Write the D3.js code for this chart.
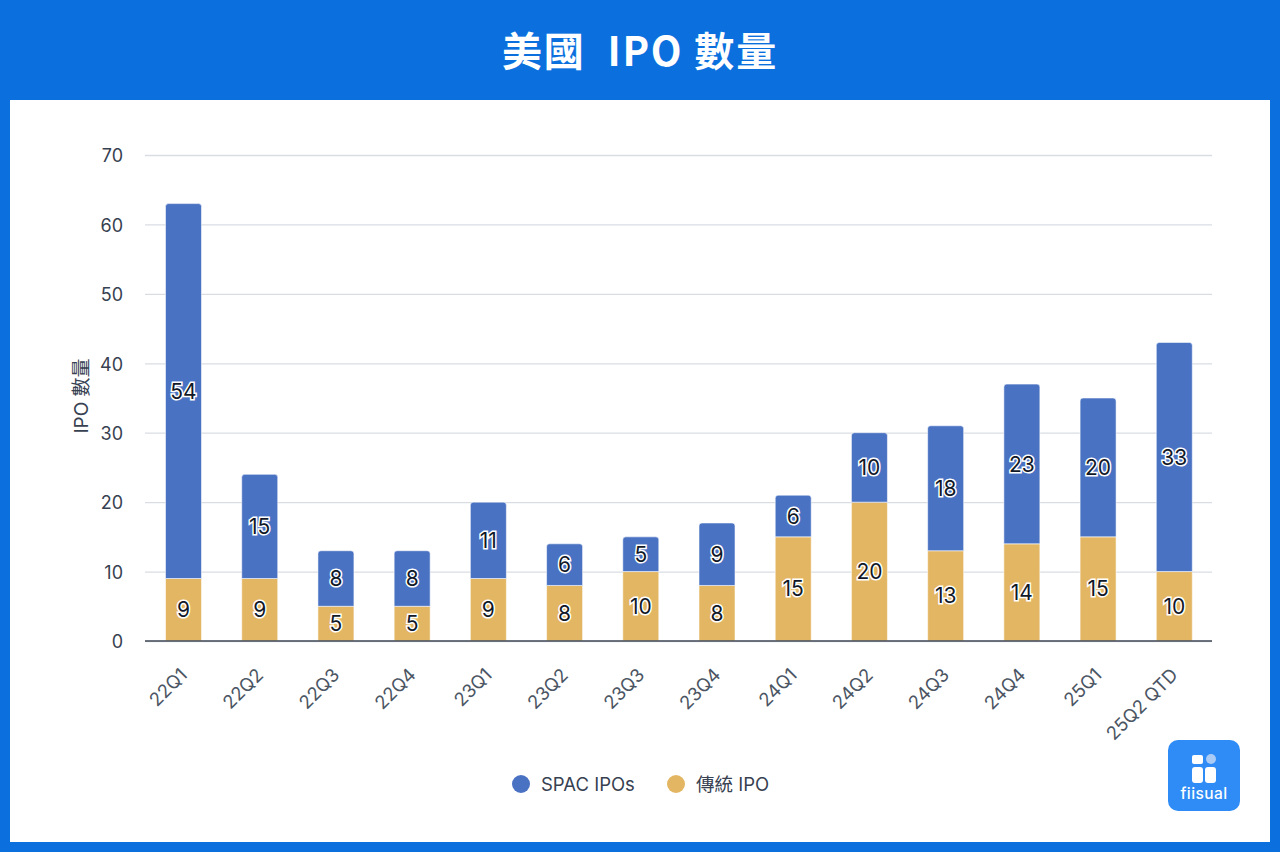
<!DOCTYPE html>
<html>
<head>
<meta charset="utf-8">
<style>
html, body { margin: 0; padding: 0; background: #fff; }
body { font-family: Inter, "Noto Sans CJK TC", sans-serif; }
svg { display: block; }
.tick text { font-family: Inter, "Noto Sans CJK TC", sans-serif; }
</style>
</head>
<body>
<svg id="chart" width="1280" height="852"></svg>
<script src="https://d3js.org/d3.v7.min.js"></script>
<script>
// values
var quarters = ["22Q1", "22Q2", "22Q3", "22Q4", "23Q1", "23Q2", "23Q3", "23Q4", "24Q1", "24Q2", "24Q3", "24Q4", "25Q1", "25Q2 QTD"];
var traditional = [9, 9, 5, 5, 9, 8, 10, 8, 15, 20, 13, 14, 15, 10];
var spac = [54, 15, 8, 8, 11, 6, 5, 9, 6, 10, 18, 23, 20, 33];
var yTicks = [0, 10, 20, 30, 40, 50, 60, 70];
var seriesNames = ["傳統 IPO", "SPAC IPOs"];
var seriesColors = ["#e3b663", "#4a72c2"];
var legendOrder = [1, 0];

var width = 1280, height = 852;
var m = { left: 145, right: 1212, top: 155, bottom: 641 };
var textColor = "#374151";
var cjkFont = 'Inter, "Noto Sans CJK TC", sans-serif';

var svg = d3.select("#chart");

// frame + title band
svg.append("rect").attr("width", width).attr("height", height).attr("fill", "#0b70de");
svg.append("rect").attr("x", 10).attr("y", 100).attr("width", 1260).attr("height", 742).attr("fill", "#fff");

svg.append("text")
  .attr("x", 640).attr("y", 66)
  .attr("text-anchor", "middle")
  .attr("fill", "#fff")
  .style("font-family", '"Noto Sans CJK TC", sans-serif')
  .style("font-size", "40px")
  .style("font-weight", 700)
  .style("letter-spacing", "1.8px")
  .style("white-space", "pre")
  .text("美國  IPO 數量");

var x = d3.scaleBand().domain(quarters).range([m.left, m.right]);
var y = d3.scaleLinear().domain([0, 70]).range([m.bottom, m.top]);
var barW = 36;

// grid + y axis
var yAxis = d3.axisLeft(y).tickValues(yTicks).tickSize(m.right - m.left).tickPadding(22);
var gy = svg.append("g").attr("transform", "translate(" + m.right + ",0)").call(yAxis);
gy.select(".domain").remove();
gy.selectAll(".tick line").attr("stroke", "#d9dde3").attr("stroke-width", 1.3);
gy.selectAll(".tick text").attr("fill", textColor).attr("dy", "0.38em").style("font-size", "18px");

svg.append("text")
  .attr("transform", "translate(88," + 396 + ") rotate(-90)")
  .attr("text-anchor", "middle")
  .attr("fill", textColor)
  .style("font-family", cjkFont)
  .style("font-size", "19px")
  .text("IPO 數量");

// stacked bars
var rows = quarters.map(function (q, i) {
  return { quarter: q, traditional: traditional[i], spac: spac[i] };
});
var stacked = d3.stack().keys(["traditional", "spac"])(rows);

// top layer gets rounded upper corners
function barPath(d, rounded) {
  var x0 = x(d.data.quarter) + (x.bandwidth() - barW) / 2 + 0.4, x1 = x0 + barW;
  var top = y(d[1]), bot = y(d[0]), r = rounded ? 3 : 0;
  return "M" + x0 + "," + bot + "V" + (top + r) +
    "Q" + x0 + "," + top + " " + (x0 + r) + "," + top +
    "H" + (x1 - r) +
    "Q" + x1 + "," + top + " " + x1 + "," + (top + r) +
    "V" + bot + "Z";
}

var layers = svg.selectAll("g.layer").data(stacked).enter().append("g").attr("class", "layer");

layers.each(function (layer, li) {
  d3.select(this).selectAll("path").data(layer).enter().append("path")
    .attr("d", function (d) { return barPath(d, li == 1); })
    .attr("fill", seriesColors[li])
    .attr("stroke", "#fff")
    .attr("stroke-opacity", 0.55)
    .attr("stroke-width", 1);
});

// baseline on top of the bars
svg.append("line")
  .attr("x1", m.left).attr("x2", m.right)
  .attr("y1", y(0)).attr("y2", y(0))
  .attr("stroke", "#3f4754").attr("stroke-width", 1.5);

// value labels with white halo
layers.each(function (layer) {
  d3.select(this).selectAll("text").data(layer).enter().append("text")
    .attr("x", function (d) { return x(d.data.quarter) + x.bandwidth() / 2 + 0.4; })
    .attr("y", function (d) { return (y(d[0]) + y(d[1])) / 2; })
    .attr("dy", "0.36em")
    .attr("text-anchor", "middle")
    .attr("fill", "#111827")
    .attr("stroke", "#fff")
    .attr("stroke-width", 3)
    .attr("paint-order", "stroke")
    .style("font-size", "21px")
    .text(function (d) { return d[1] - d[0]; });
});

// x labels, rotated 45deg, anchored at their end
svg.selectAll("text.xlabel").data(quarters).enter().append("text")
  .attr("class", "xlabel")
  .attr("transform", function (d) {
    return "translate(" + (x(d) + x.bandwidth() / 2 - 4) + ",667) rotate(-45)";
  })
  .attr("text-anchor", "end")
  .attr("dy", "0.7em")
  .attr("fill", "#4b5563")
  .style("font-size", "18.5px")
  .text(function (d) { return d; });

// legend
var legendX = [521, 676];
legendOrder.forEach(function (s, i) {
  svg.append("circle").attr("cx", legendX[i]).attr("cy", 784).attr("r", 9).attr("fill", seriesColors[s]);
  svg.append("text")
    .attr("x", legendX[i] + 20).attr("y", 784)
    .attr("dy", "0.36em")
    .attr("fill", textColor)
    .style("font-family", cjkFont)
    .style("font-size", "18.5px")
    .text(seriesNames[s]);
});

// fiisual logo badge
var logo = svg.append("g").attr("transform", "translate(1168,740)");
logo.append("rect").attr("width", 72).attr("height", 71).attr("rx", 10).attr("fill", "#2f8cf6");
logo.append("rect").attr("x", 24).attr("y", 15).attr("width", 11).attr("height", 9).attr("rx", 2).attr("fill", "#fff");
logo.append("circle").attr("cx", 43).attr("cy", 19).attr("r", 5).attr("fill", "#a9cbf5");
logo.append("rect").attr("x", 24).attr("y", 27).attr("width", 11).attr("height", 16).attr("rx", 3).attr("fill", "#fff");
logo.append("rect").attr("x", 37).attr("y", 27).attr("width", 11).attr("height", 16).attr("rx", 3).attr("fill", "#fff");
logo.append("text").attr("x", 36).attr("y", 59)
  .attr("text-anchor", "middle").attr("fill", "#fff")
  .style("font-size", "15.5px").style("font-weight", 500)
  .style("letter-spacing", "0.4px")
  .text("fiisual");
</script>
</body>
</html>
